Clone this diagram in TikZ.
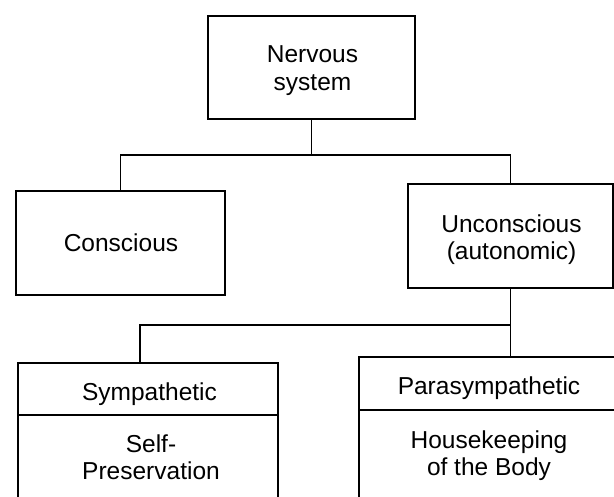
\documentclass[tikz,border=0pt]{standalone}
\usepackage{fontspec}
\setmainfont{Liberation Sans}
\begin{document}
\begin{tikzpicture}[x=1pt,y=-1pt,
  frame/.style={draw=black, line width=1.4pt, rectangle, inner sep=0pt},
  txt/.style={anchor=north, inner sep=0pt, align=center,
              font=\fontsize{24.5}{27.5}\selectfont},
  wire/.style={draw=black, line width=1.4pt}]
\useasboundingbox (0,0) rectangle (614,497);
\clip (0,0) rectangle (614,497);

% boxes
\node[frame, minimum width=207, minimum height=103] (nerv)  at (311.5,67.5) {};
\node[frame, minimum width=209, minimum height=104] (cons)  at (120.5,243) {};
\node[frame, minimum width=205, minimum height=104] (uncon) at (510.5,236) {};
\node[frame, minimum width=260, minimum height=52]  (symh)  at (148,389) {};
\node[frame, minimum width=260, minimum height=115] (symb)  at (148,472.5) {};
\node[frame, minimum width=261, minimum height=53]  (parah) at (489.5,383.5) {};
\node[frame, minimum width=261, minimum height=120] (parab) at (489.5,470) {};

% texts
\node[txt] (nervT)  at (312.5,45.5)  {Nervous\\system};
\node[txt] (consT)  at (121,233.5)   {Conscious};
\node[txt] (unconT) at (511.5,214.5) {Unconscious\\(autonomic)};
\node[txt] (symhT)  at (149.5,382.5) {Sympathetic};
\node[txt] (symbT)  at (151,434.5)   {Self-\\Preservation};
\node[txt] (parahT) at (489,376.5)   {Parasympathetic};
\node[txt] (parabT) at (489,430.5)   {Housekeeping\\of the Body};

% connectors
\coordinate (b1) at (311.5,155);
\coordinate (b2) at (510.5,325);
\draw[wire] (nerv.south) -- (b1);
\draw[wire] (cons.north) |- (b1) -| (uncon.north);
\draw[wire] (uncon.south) -- (uncon.south |- parah.north);
\draw[wire] (b2) -| ([xshift=-8pt]symh.north);
\end{tikzpicture}
\end{document}
